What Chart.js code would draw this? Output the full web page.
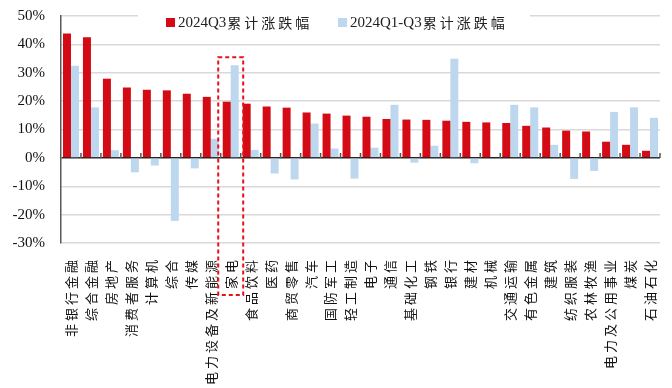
<!DOCTYPE html>
<html>
<head>
<meta charset="utf-8">
<script src="https://cdn.jsdelivr.net/npm/chart.js@4/dist/chart.umd.min.js"></script>
<style>
  body { margin: 0; background: #fff; }
  canvas { display: block; }
</style>
</head>
<body>
<canvas id="chartCanvas" width="672" height="388"></canvas>
<script>
// 行业分类
const industries = ["非银行金融", "综合金融", "房地产", "消费者服务", "计算机", "综合", "传媒",
    "电力设备及新能源", "家电", "食品饮料", "医药", "商贸零售", "汽车", "国防军工", "轻工制造",
    "电子", "通信", "基础化工", "钢铁", "银行", "建材", "机械", "交通运输", "有色金属", "建筑",
    "纺织服装", "农林牧渔", "电力及公用事业", "煤炭", "石油石化"];

// 2024Q3 累计涨跌幅 (%)
const q3Change = [43.8, 42.5, 27.9, 24.8, 24.0, 23.8, 22.6, 21.5, 19.8, 19.1, 18.1, 17.7, 16.0, 15.6, 14.9,
    14.5, 13.7, 13.5, 13.4, 13.1, 12.7, 12.5, 12.3, 11.3, 10.7, 9.6, 9.3, 5.7, 4.6, 2.5];

// 2024Q1-Q3 累计涨跌幅 (%)
const ytdChange = [32.5, 17.8, 2.7, -5.1, -2.7, -22.2, -3.7, 6.7, 32.6, 2.8, -5.5, -7.6, 12.1, 3.3, -7.3,
    3.6, 18.7, -1.7, 4.3, 34.9, -1.9, 0, 18.7, 17.8, 4.6, -7.4, -4.6, 16.2, 17.8, 14.1];

const seriesNames = ["2024Q3累计涨跌幅", "2024Q1-Q3累计涨跌幅"];
const yMin = -30, yMax = 50, yStep = 10;
const highlighted = "家电";

const RED = "#D40A14";
const BLUE = "#BDD7EE";
const LATIN = "'Liberation Serif', 'Times New Roman', serif";
const CJK = "'Noto Sans CJK SC', sans-serif";

// 分类轴标签加字间距
const baseDrawLabels = Chart.CategoryScale.prototype.drawLabels;
Chart.CategoryScale.prototype.drawLabels = function (area) {
    const ctx = this.ctx;
    const prev = ctx.letterSpacing;
    ctx.letterSpacing = "3px";
    baseDrawLabels.call(this, area);
    ctx.letterSpacing = prev;
};

// 零轴上的分类刻度
const zeroTicks = {
    id: "zeroTicks",
    afterDatasetsDraw(chart) {
        const ctx = chart.ctx, xs = chart.scales.x, ys = chart.scales.y;
        const y0 = ys.getPixelForValue(0);
        const step = xs.getPixelForValue(1) - xs.getPixelForValue(0);
        ctx.save();
        ctx.strokeStyle = "#555";
        ctx.lineWidth = 1.5;
        ctx.beginPath();
        for (let i = 0; i < industries.length; i++) {
            const x = xs.getPixelForValue(i) + step / 2;
            ctx.moveTo(x, y0);
            ctx.lineTo(x, y0 - 5);
        }
        ctx.stroke();
        ctx.restore();
    }
};

// 图例 (画在绘图区内, 白底)
const topLegend = {
    id: "topLegend",
    afterDraw(chart) {
        const ctx = chart.ctx;
        const top = chart.chartArea.top;
        const items = [{ x: 166, color: RED }, { x: 338, color: BLUE }];
        ctx.save();
        ctx.fillStyle = "#fff";
        ctx.fillRect(138, top - 6, 392, 24);
        ctx.textBaseline = "middle";
        items.forEach((it, i) => {
            const cy = top + 6.5;
            ctx.fillStyle = it.color;
            ctx.fillRect(it.x, cy - 4.5, 9, 9);
            const m = seriesNames[i].match(/^([\x00-\x7f]+)(.*)$/);
            ctx.fillStyle = "#222";
            ctx.font = "15px " + LATIN;
            ctx.letterSpacing = "0px";
            ctx.fillText(m[1], it.x + 12, cy + 1);
            const w = ctx.measureText(m[1]).width;
            ctx.font = "14px " + CJK;
            ctx.letterSpacing = "3px";
            ctx.fillText(m[2], it.x + 12 + w + 1, cy);
        });
        ctx.restore();
    }
};

// 家电 红色虚线框
const highlightBox = {
    id: "highlightBox",
    afterDraw(chart) {
        const ctx = chart.ctx, xs = chart.scales.x, ys = chart.scales.y;
        const idx = industries.indexOf(highlighted);
        const step = xs.getPixelForValue(1) - xs.getPixelForValue(0);
        const cx = xs.getPixelForValue(idx);
        const half = step / 2 + 2.5;
        const top = ys.getPixelForValue(Math.max(q3Change[idx], ytdChange[idx])) - 8;
        const bottom = chart.chartArea.bottom + 52;
        ctx.save();
        ctx.strokeStyle = "#E8111B";
        ctx.lineWidth = 2;
        ctx.setLineDash([4, 3]);
        ctx.strokeRect(cx - half, top, half * 2, bottom - top);
        ctx.restore();
    }
};

const ctx = document.getElementById("chartCanvas").getContext("2d");
new Chart(ctx, {
    type: "bar",
    data: {
        labels: industries,
        datasets: [
            { label: seriesNames[0], data: q3Change, backgroundColor: RED },
            { label: seriesNames[1], data: ytdChange, backgroundColor: BLUE }
        ]
    },
    options: {
        responsive: false,
        animation: false,
        devicePixelRatio: 1,
        layout: { padding: { top: 16, right: 12, left: 0, bottom: 0 } },
        datasets: { bar: { categoryPercentage: 0.8, barPercentage: 1.0 } },
        plugins: {
            legend: { display: false },
            tooltip: { enabled: false }
        },
        scales: {
            x: {
                position: "bottom",
                grid: { display: false },
                border: { display: false },
                afterFit: s => { s.height = 145; s.paddingLeft = 0; s.paddingRight = 0; },
                ticks: {
                    autoSkip: false,
                    minRotation: 90,
                    maxRotation: 90,
                    padding: 6,
                    color: "#111",
                    font: { family: CJK, size: 13 }
                }
            },
            y: {
                min: yMin,
                max: yMax,
                afterFit: s => { s.width = 61; s.paddingTop = 0; s.paddingBottom = 0; },
                grid: {
                    drawTicks: false,
                    color: c => c.tick.value === 0 ? "#222" : "#D9D9D9",
                    lineWidth: 1.5
                },
                border: { display: true, color: "#595959", width: 1.5 },
                ticks: {
                    stepSize: yStep,
                    padding: 16,
                    color: "#111",
                    font: { family: LATIN, size: 15 },
                    callback: v => v + "%"
                }
            }
        }
    },
    plugins: [zeroTicks, topLegend, highlightBox]
});
</script>
</body>
</html>
